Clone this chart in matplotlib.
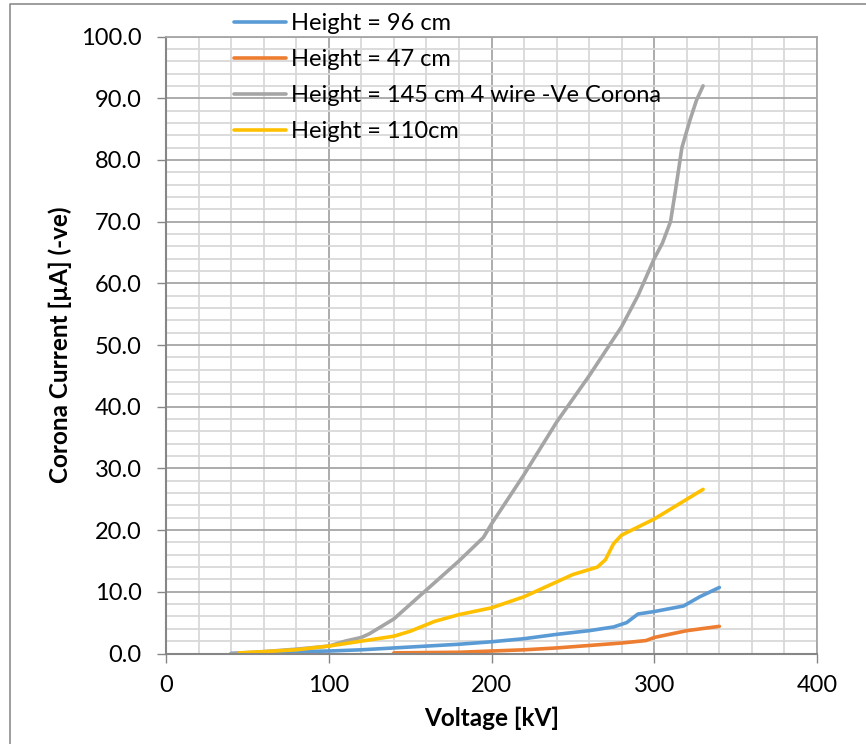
import numpy as np
import matplotlib
matplotlib.use('Agg')
import matplotlib.pyplot as plt
from matplotlib.lines import Line2D
from matplotlib.ticker import MultipleLocator, FormatStrFormatter

plt.rcParams['font.family'] = ['Lato', 'DejaVu Sans']

# Corona current vs voltage
v_96 = [40, 60, 80, 100, 120, 140, 160, 180, 200, 220, 240, 260, 275, 283, 290, 300, 318, 328, 340]
i_96 = [0.0, 0.15, 0.3, 0.4, 0.6, 0.9, 1.2, 1.5, 1.9, 2.4, 3.1, 3.7, 4.3, 5.0, 6.4, 6.8, 7.7, 9.2, 10.7]

v_47 = [140, 160, 180, 200, 220, 240, 260, 280, 295, 300, 320, 340]
i_47 = [0.1, 0.15, 0.2, 0.4, 0.6, 0.9, 1.3, 1.7, 2.1, 2.6, 3.7, 4.4]

v_145 = [40, 60, 80, 100, 110, 120, 125, 140, 160, 180, 195, 200, 220, 240, 260,
         280, 290, 300, 305, 310, 313, 317, 322, 326, 330]
i_145 = [0.0, 0.3, 0.7, 1.2, 2.0, 2.6, 3.2, 5.6, 10.3, 15.0, 18.8, 21.0, 29.0, 37.5, 45.0,
         53.0, 58.0, 64.0, 66.5, 70.0, 75.0, 82.0, 86.5, 89.7, 92.0]

v_110 = [45, 60, 80, 100, 120, 140, 150, 165, 180, 200, 220, 235, 250, 265, 270,
         275, 280, 300, 330]
i_110 = [0.1, 0.3, 0.6, 1.2, 2.0, 2.8, 3.6, 5.2, 6.3, 7.4, 9.2, 11.0, 12.8, 14.0, 15.2,
         17.8, 19.2, 21.8, 26.6]

labels = ['Height = 96 cm', 'Height = 47 cm', 'Height = 145 cm 4 wire -Ve Corona', 'Height = 110cm']
colors = ['#5B9BD5', '#ED7D31', '#A5A5A5', '#FFC000']

W, H = 866, 744
fig = plt.figure(figsize=(W / 100, H / 100), dpi=100)
ax = fig.add_axes([166 / W, 1 - 653.5 / H, (817 - 166) / W, (653.5 - 36.5) / H])

series = [(v_96, i_96), (v_47, i_47), (v_145, i_145), (v_110, i_110)]
for (v, i), lab, c in zip(series, labels, colors):
    ax.plot(v, i, color=c, lw=2.6, label=lab, solid_capstyle='round', solid_joinstyle='round')

ax.set_xlim(0, 400)
ax.set_ylim(0, 100)
ax.xaxis.set_major_locator(MultipleLocator(100))
ax.xaxis.set_minor_locator(MultipleLocator(20))
ax.yaxis.set_major_locator(MultipleLocator(10))
ax.yaxis.set_minor_locator(MultipleLocator(2))
ax.yaxis.set_major_formatter(FormatStrFormatter('%.1f'))

ax.grid(which='major', color='#A6A6A6', lw=1.3)
ax.grid(which='minor', color='#D9D9D9', lw=1.3)
ax.set_axisbelow(True)

for s in ['top', 'right']:
    ax.spines[s].set_color('#A6A6A6')
    ax.spines[s].set_linewidth(1.3)
for s in ['bottom', 'left']:
    ax.spines[s].set_color('#868686')
    ax.spines[s].set_linewidth(1.5)

ax.tick_params(which='major', length=6.5, width=1, color='#868686', labelsize=17, labelcolor='black')
ax.tick_params(axis='y', which='major', pad=11)
ax.tick_params(axis='x', which='major', pad=9)
ax.tick_params(which='minor', length=0)

ax.set_xlabel('Voltage [kV]', fontsize=17.5, fontweight='bold', va='center')
ax.xaxis.set_label_coords(0.5, -0.105)
ax.set_ylabel('Corona Current [\u00b5A] (-ve)', fontsize=17.5, fontweight='bold', va='center')
ax.yaxis.set_label_coords(-0.163, 0.5)

leg = ax.legend(loc='upper left', bbox_to_anchor=(234 / W, 1 - 13 / H), bbox_transform=fig.transFigure,
                frameon=False, fontsize=17, handlelength=2.2, handletextpad=0.22,
                labelspacing=0.64, borderpad=0, borderaxespad=0)

# chart area border (top and left edges visible)
fig.add_artist(Line2D([10 / W, 10 / W, 1], [0, 1 - 4 / H, 1 - 4 / H], transform=fig.transFigure,
                      color='#8C8C8C', lw=1.2))

fig.savefig('out.png', dpi=100)
